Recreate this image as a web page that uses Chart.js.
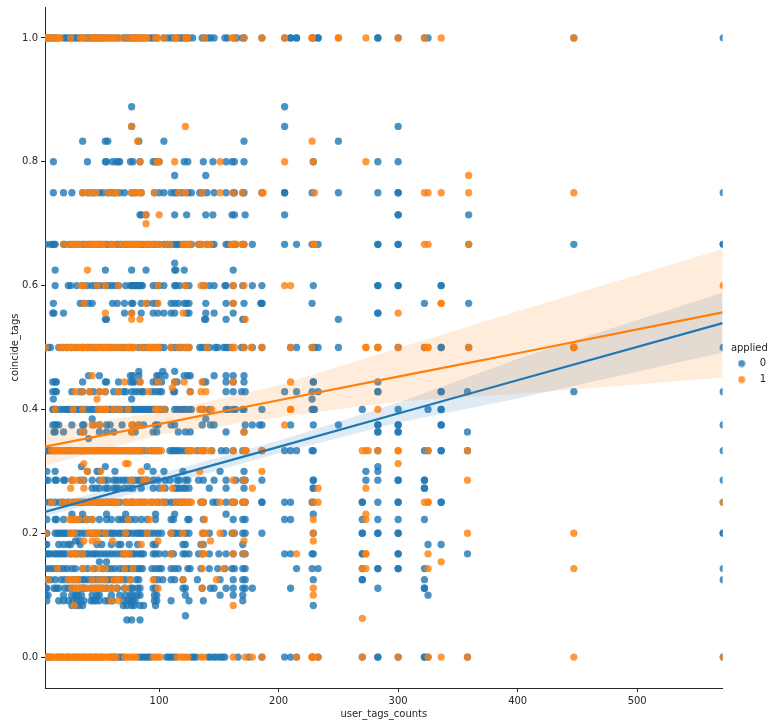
<!DOCTYPE html>
<html><head><meta charset="utf-8">
<style>html,body{margin:0;padding:0;background:#fff}canvas{display:block}</style>
<script src="https://cdn.jsdelivr.net/npm/chart.js@4/dist/chart.umd.min.js"></script>
</head><body><canvas id="c" width="776" height="727"></canvas>
<script>
const xTicks=[100,200,300,400,500];
const yTicks=[0,0.2,0.4,0.6,0.8,1];
// x values for each coincide_tags level, per "applied" group
const b1000=[5,7,9,11,13,16,20,22,24,26,28,30,32,34,38,40,42,44,46,48,50,52,54,57,60,63,66,70,72,74,76,78,80,83,85,88,92,94,96,98,104,107,110,112,115,117,119,121,123,125,128,136,138,141,143,146,155,157,163,165,170,171,186,205,210,210,215,215,228,229,233,233,283,283,300,322,325,447,572];
const o1000=[5,6,8,10,13,15,17,26,34,36,37,42,45,47,50,52,55,58,60,62,66,70,75,78,80,82,84,86,88,90,97,99,104,113,115,122,124,138,161,163,171,186,205,228,228,250,250,273,300,322,336,447];
const b0889=[77,205];
const b0857=[77,205,300];
const o0857=[77,122];
const b0833=[36,55,57,83,104,171,250];
const o0833=[82,228];
const b0800=[11.5,40,55,56,61,64,66,67,76,78,84,95,97,98,100,121,124,137,145,156,161,163,171,229,283,300];
const o0800=[84,98,100,113,151,205,229,273];
const b0778=[113,139];
const o0778=[359];
const b0750=[11.5,20,27,36,41,45,50,53,57,60,63,67,71,77,80,85,96,100,104,110,113,115,119,124,127,134,136,140,146,156,162,163,170,171,186,205,205,228,250,283,300,300,572];
const o0750=[36,40,43,47,57,62,64,77,79,83,85,96,116,122,136,151,162,170,186,187,230,322,325,336,359,447];
const b0714=[84,85,89,113,123,139,145,161,163,172,205,300,300,359];
const o0714=[89,100];
const o0700=[89];
const b0667=[5,9,11,12,13,20,21,25,27,30,33,36,38,41,43,45,48,50,52,55,57,60,64,66,68,71,73,75,77,79,81,83,85,87,90,92,95,97,100,104,107,110,113,115,117,120,122,125,127,133,135,140,144,146,156,158,162,163,164,170,171,178,205,215,228,230,233,283,283,300,300,359,447,572,572];
const o0667=[20,25,28,30,32,36,40,43,45,47,49,52,54,59,61,66,70,73,75,77,79,80,82,84,88,90,93,96,99,104,109,120,122,124,126,133,136,140,143,160,162,164,169,171,229,230,322,325,359];
const b0636=[113];
const b0625=[13,55,77,89,113,114,121,162];
const o0625=[40];
const b0600=[13,24,26,31,36,40,44,47,50,54,57,60,63,66,72,76,77,78,79,80,81,82,83,84,85,86,95,98,100,104,113,114,117,122,125,137,142,146,155,156,162,170,178,186,229,283,283,300,300,336,336];
const o0600=[35,37,48,55,66,99,122,135,138,162,171,205,210,572];
const b0571=[11.5,34,37,41,44,61,65,71,77,78,85,90,95,98,110,113,116,121,123,125,139,156,162,171,185,186,186,228,322,359];
const o0571=[37,89,99,162,336,336];
const b0556=[11,12,20,71,77,85,95,99,104,110,113,123,125,139,146,162,283,283];
const o0556=[55,77,120,300];
const b0545=[55,56,138,139,156,170,171,250];
const o0545=[77,84,172];
const b0500=[5,7,9,16,19,23,27,31,36,40,43,46,49,53,57,60,64,68,71,75,78,83,87,90,94,97,101,104,110,113,116,118,122,125,134,136,139,142,147,149,154,156,158,161,169,171,178,186,210,215,228,230,233,250,283,300,322,336,336,359,447,572];
const o0500=[5,17,20,23,25,27,30,33,35,37,39,41,45,47,49,52,54,56,58,61,64,66,70,73,75,77,79,85,90,92,94,96,98,100,110,116,120,123,125,140,161,163,171,177,186,210,228,273,273,283,283,300,322,325,325,359,447,447];
const b0462=[83,103,113];
const b0455=[41,50,76,78,83,98,100,105,121,124,126,146,156,162,171];
const o0455=[44];
const o0435=[111];
const b0444=[11,13,14,36,55,56,66,76,78,79,84,95,98,102,113,115,137,139,156,162,171,229,229,283];
const o0444=[71,84,99,113,121,136,162,210];
const b0429=[11,13,14,27,34,36,42,45,50,55,62,66,70,72,77,80,83,86,87,94,97,100,102,112,113,126,156,162,169,172,205,215,228,233,283,283,336,336,358,447,572];
const o0429=[30,36,42,50,55,66,91,126,135,139];
const b0417=[11.5,77,228];
const o0417=[48];
const b0400=[11,12,13,14,17,20,22,24,26,28,30,33,35,37,40,43,45,48,50,53,55,58,60,63,65,67,70,73,75,77,79,81,83,85,87,89,91,93,95,97,99,101,104,105,113,115,118,120,122,125,127,135,137,142,156,158,162,164,170,171,186,228,229,230,270,300,325,336,336];
const o0400=[13,28,36,49,52,55,56,62,67,74,97,99,104,134,137,144,210,210,283];
const b0385=[44,139];
const b0375=[11,13,14,16,27,36,37,45,50,56,59,69,78,83,87,97,99,110,113,136,143,146,172,178,184,186,210,229,250,283,283,300,300,336,336,572];
const o0375=[44,50,77,83,205];
const b0364=[12,13,20,34,37,50,56,62,77,80,95,98,116,122,126,156,171,283,283,300,300,358];
const o0364=[36,77,171];
const b0353=[41];
const b0333=[5,7,9,11,14,18,21,24,26,30,33,36,39,42,45,48,51,54,57,60,63,66,69,72,75,78,80,83,85,88,92,95,98,100,109,111,113,115,117,120,123,126,132,137,144,152,156,162,170,172,186,205,210,215,228,229,283,322,325,336,336,358,572];
const o0333=[10,12,14,16,19,21,23,27,29,31,34,36,38,40,43,45,47,49,51,53,55,57,59,61,63,65,67,69,71,73,75,77,79,81,83,85,91,94,97,99,102,124,126,128,134,136,140,144,162,171,173,186,270,273,275,283,300,300,325,358];
const o0313=[37,72,74,300];
const b0308=[35,55,90,283];
const b0300=[6,13,40,48,50,63,95,104,120,151,171,273,283];
const o0300=[40,51,85,134,186];
const b0286=[5,7,13,14,20,21,27,34,37,44,50,54,57,62,64,67,70,73,77,80,83,85,88,90,95,99,105,109,115,117,122,124,133,137,146,156,164,170,172,186,229,229,273,283,300,300,322,322,572];
const o0286=[27,30,36,52,77,87,90,162,171,358];
const b0273=[44,47,50,55,57,62,64,66,71,75,78,85,95,100,105,113,115,117,120,122,125,142,156,171,229,229,322,322];
const o0273=[26,37,103,111,178,233,273];
const b0250=[5,9,13,17,20,24,28,31,34,37,41,45,48,51,54,57,60,63,67,72,76,78,84,88,94,99,103,106,110,113,116,119,122,125,135,137,145,148,156,161,163,170,172,186,186,205,210,228,229,270,270,283,300,300,336,336,572];
const o0250=[10,19,24,28,31,33,36,38,41,44,46,49,52,55,57,61,63,65,72,74,77,79,81,83,86,88,91,94,97,100,104,114,118,120,122,125,127,135,137,151,161,163,170,172,229,233,322,325,325,572];
const b0231=[27,36,56,72,97,113,156,229];
const o0231=[273];
const b0222=[6,13,14,20,27,30,34,37,40,44,50,56,60,66,69,72,76,80,85,90,97,110,112,124,125,137,162,170,172,205,210,270,283,300,322];
const o0222=[25,28,30,33,39,44,74,92,138,229,273];
const b0200=[5,6,13,15,17,19,21,23,26,29,31,34,37,40,43,46,48,51,53,56,59,61,63,66,68,71,73,75,78,81,83,85,87,90,93,96,99,102,110,112,114,117,122,125,137,142,154,161,163,170,172,186,229,270,270,283,283,300,300,572,572];
const o0200=[5,26,29,41,44,46,49,55,72,90,110,120,136,139,151,162,229,358,447];
const b0188=[30,33];
const o0188=[37,44,48,61,99,143,171,229];
const b0182=[5,6,16,20,24,26,34,48,52,60,66,68,75,82,95,97,120,122,135,137,170,325,336];
const o0182=[85,136];
const b0167=[5,7,9,12,14,16,18,20,22,26,29,31,34,36,39,41,44,46,48,51,54,57,60,63,66,69,71,74,76,78,80,83,85,87,95,97,100,105,110,112,120,122,125,133,136,142,150,156,162,170,172,205,210,228,229,270,270,300,300,358];
const o0167=[26,29,31,36,70,72,75,110,136,138,162,171,215,273,273,325];
const b0154=[50,56];
const o0154=[336];
const b0143=[5,8,11,14,17,20,23,27,30,36,40,46,53,57,60,63,67,70,73,76,79,82,84,86,94,97,100,102,110,113,116,124,126,135,142,149,155,161,163,170,172,215,228,233,270,283,283,300,300,322,572];
const o0143=[15,36,44,50,55,71,78,136,154,270,273,325,447];
const b0125=[5,6,9,13,18,21,24,28,31,33,36,38,41,44,47,50,53,56,58,61,63,66,69,72,76,81,83,96,99,103,110,113,120,132,151,162,170,172,229,270,270,322,572];
const o0125=[7,24,27,30,32,44,50,55,62,65,68,76,95,120,148];
const b0111=[5,6,12,14,16,21,24,27,30,34,36,38,43,47,50,53,56,60,65,71,76,78,82,84,95,97,120,122,136,143,146,156,162,170,172,178,210,283,322,322];
const o0111=[27,31,33,37,40,44,46,48,50,52,56,60,64,72,99,136,229];
const b0100=[5,7,20,27,30,32,35,44,48,50,60,67,72,76,78,82,84,96,98,122,151,162,170,325];
const o0100=[229];
const b0091=[6,16,20,24,28,31,34,37,43,45,47,50,55,58,61,70,74,76,78,80,96,98,110,125,137,170];
const o0091=[60,66];
const b0083=[27,30,33,36,70,73,77,79,84,87,97,229];
const o0083=[29,162];
const o0063=[270];
const b0060=[73,77,84];
const b0067=[122];
const b0000=[5,7,9,16,19,24,28,32,38,42,47,52,60,63,66,68,70,83,85,87,89,91,93,106,108,110,112,114,127,129,131,141,143,146,148,151,153,155,166,175,186,205,210,215,228,233,270,283,283,300,322,322,325,358,572];
const o0000=[5,7,8,10,11,13,14,16,17,19,20,22,23,25,26,28,29,31,32,34,35,37,38,40,41,43,44,46,47,49,50,52,53,55,56,58,59,61,62,64,71,73,75,77,79,81,95,97,99,101,115,118,120,122,124,135,137,162,172,178,186,215,228,228,229,229,233,270,300,325,336,358,447,572];
const blueRows=[[1,b1000],[.8889,b0889],[.8571,b0857],[.8333,b0833],[.8,b0800],[.7778,b0778],[.75,b0750],[.7143,b0714],[.6667,b0667],[.6364,b0636],[.625,b0625],[.6,b0600],[.5714,b0571],[.5556,b0556],[.5455,b0545],[.5,b0500],[.4615,b0462],[.4545,b0455],[.4444,b0444],[.4286,b0429],[.4167,b0417],[.4,b0400],[.3846,b0385],[.375,b0375],[.3636,b0364],[.3529,b0353],[.3333,b0333],[.3077,b0308],[.3,b0300],[.2857,b0286],[.2727,b0273],[.25,b0250],[.2308,b0231],[.2222,b0222],[.2,b0200],[.1875,b0188],[.1818,b0182],[.1667,b0167],[.1538,b0154],[.1429,b0143],[.125,b0125],[.1111,b0111],[.1,b0100],[.0909,b0091],[.0833,b0083],[.0667,b0067],[.06,b0060],[0,b0000]];
const orangeRows=[[1,o1000],[.8571,o0857],[.8333,o0833],[.8,o0800],[.7778,o0778],[.75,o0750],[.7143,o0714],[.7,o0700],[.6667,o0667],[.625,o0625],[.6,o0600],[.5714,o0571],[.5556,o0556],[.5455,o0545],[.5,o0500],[.4545,o0455],[.4444,o0444],[.4348,o0435],[.4286,o0429],[.4167,o0417],[.4,o0400],[.375,o0375],[.3636,o0364],[.3333,o0333],[.3125,o0313],[.3,o0300],[.2857,o0286],[.2727,o0273],[.25,o0250],[.2308,o0231],[.2222,o0222],[.2,o0200],[.1875,o0188],[.1818,o0182],[.1667,o0167],[.1538,o0154],[.1429,o0143],[.125,o0125],[.1111,o0111],[.1,o0100],[.0909,o0091],[.0833,o0083],[.0625,o0063],[0,o0000]];
// regression lines and confidence bands
const bandX=[4.5,100,200,300,402,571.5];
const blueLine=[.2344,.2858,.3396,.3934,.4483,.5394];
const blueUpper=[.2418,.2955,.3495,.4108,.483,.5889];
const blueLower=[.2273,.2745,.329,.3785,.4184,.492];
const orangeLine=[.3398,.3763,.4148,.4530,.4915,.5566];
const orangeUpper=[.3705,.3947,.439,.4988,.5598,.659];
const orangeLower=[.309,.359,.3875,.4129,.4253,.4517];
const series=["0","1"];
const blue="#1f77b4",orange="#ff7f0e";
const blueA="rgba(31,119,180,.8)",orangeA="rgba(255,127,14,.8)";
const flat=r=>r.flatMap(([y,xs])=>xs.map(x=>({x,y})));
const curve=ys=>bandX.map((x,i)=>({x,y:ys[i]}));
function dot(col){const c=document.createElement('canvas');c.width=8;c.height=8;const g=c.getContext('2d');g.fillStyle=col;g.beginPath();g.arc(4,4,3.5,0,Math.PI*2);g.fill();return c;}
const lineDs=(ys,col,o,extra)=>Object.assign({type:'scatter',showLine:true,data:curve(ys),borderColor:col,borderWidth:2.25,pointRadius:0,order:o,clip:0,fill:false},extra||{});
new Chart(document.getElementById('c'),{
 type:'scatter',
 data:{datasets:[
  {label:series[0],data:flat(blueRows),backgroundColor:blueA,borderWidth:0,pointRadius:3.65,order:8,clip:0},
  lineDs(blueLower,'rgba(0,0,0,0)',7,{label:'bl',borderWidth:0}),
  lineDs(blueUpper,'rgba(0,0,0,0)',7,{label:'bu',borderWidth:0,fill:'-1',backgroundColor:'rgba(31,119,180,.15)'}),
  lineDs(blueLine,blue,1,{label:'blueFit'}),
  {label:series[1],data:flat(orangeRows),backgroundColor:orangeA,borderWidth:0,pointRadius:3.65,order:4,clip:0},
  lineDs(orangeLower,'rgba(0,0,0,0)',3,{label:'ol',borderWidth:0}),
  lineDs(orangeUpper,'rgba(0,0,0,0)',3,{label:'ou',borderWidth:0,fill:'-1',backgroundColor:'rgba(255,127,14,.15)'}),
  lineDs(orangeLine,orange,0,{label:'orangeFit'})
 ]},
 options:{
  responsive:false,animation:false,
  layout:{padding:{top:7,right:0,left:0,bottom:0}},
  font:{family:"'DejaVu Sans'",size:10},
  scales:{
   x:{type:'linear',min:4.5,max:571.5,
    afterBuildTicks:s=>{s.ticks=xTicks.map(v=>({value:v}));},
    afterFit:s=>{s.height=39;s.paddingLeft=0;s.paddingRight=0;},
    grid:{drawOnChartArea:false,tickLength:4,tickColor:'#262626',tickWidth:1},
    border:{color:'#262626',width:1},
    ticks:{color:'#262626',font:{family:"'DejaVu Sans'",size:10},padding:3,maxRotation:0,callback:v=>String(v)},
    title:{display:true,text:'user_tags_counts',color:'#262626',font:{family:"'DejaVu Sans'",size:10},padding:{top:3,bottom:7}}},
   y:{type:'linear',min:-0.05,max:1.05,
    afterBuildTicks:s=>{s.ticks=yTicks.map(v=>({value:v}));},
    afterFit:s=>{s.width=45;s.paddingTop=0;s.paddingBottom=0;},
    grid:{drawOnChartArea:false,tickLength:4,tickColor:'#262626',tickWidth:1},
    border:{color:'#262626',width:1},
    ticks:{color:'#262626',font:{family:"'DejaVu Sans'",size:10},padding:3,callback:v=>v.toFixed(1)},
    title:{display:true,text:'coincide_tags',color:'#262626',font:{family:"'DejaVu Sans'",size:10},padding:{top:9,bottom:2}}}
  },
  plugins:{
   tooltip:{enabled:false},
   legend:{display:true,position:'right',align:'center',
    title:{display:true,text:'applied',color:'#262626',font:{family:"'DejaVu Sans'",size:10},padding:{top:0,bottom:-3}},
    labels:{color:'#262626',font:{family:"'DejaVu Sans'",size:10},usePointStyle:true,pointStyleWidth:26,padding:6,
     generateLabels:()=>[{text:series[0],pointStyle:dot(blueA),fillStyle:blueA,strokeStyle:blueA,lineWidth:0,hidden:false,datasetIndex:0,fontColor:'#262626'},{text:series[1],pointStyle:dot(orangeA),fillStyle:orangeA,strokeStyle:orangeA,lineWidth:0,hidden:false,datasetIndex:4,fontColor:'#262626'}]}}
  }
 }
});
</script></body></html>
